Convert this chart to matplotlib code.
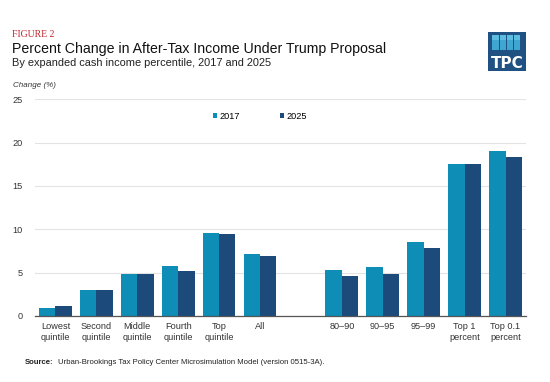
import matplotlib.pyplot as plt
from matplotlib.patches import Rectangle
import numpy as np

plt.rcParams['font.family'] = ['Liberation Sans', 'DejaVu Sans']

groups = ["Lowest\nquintile", "Second\nquintile", "Middle\nquintile", "Fourth\nquintile",
          "Top\nquintile", "All", "", "80\u201390", "90\u201395", "95\u201399",
          "Top 1\npercent", "Top 0.1\npercent"]
v2017 = [0.9, 3.0, 4.9, 5.8, 9.6, 7.1, np.nan, 5.3, 5.7, 8.5, 17.5, 19.0]
v2025 = [1.1, 3.0, 4.9, 5.2, 9.5, 6.9, np.nan, 4.6, 4.8, 7.8, 17.5, 18.3]
yticks = [0, 5, 10, 15, 20, 25]

c17 = "#0e8db6"
c25 = "#1b4a7b"

fig = plt.figure(figsize=(5.5, 3.82), dpi=100)
ax = fig.add_axes([0.0636, 0.1728, 0.8927, 0.5672])

x = np.arange(len(groups))
w = 0.4
ax.bar(x - w / 2, v2017, w, color=c17, label="2017")
ax.bar(x + w / 2, v2025, w, color=c25, label="2025")

ax.set_xlim(-0.5, len(groups) - 0.5)
ax.set_ylim(0, 25)
ax.set_yticks(yticks)
ax.set_xticks(x)
ax.set_xticklabels(groups, fontsize=6.6, color="#333333", linespacing=1.3)
ax.tick_params(axis="y", labelsize=6.6, colors="#333333", length=0, pad=9)
ax.tick_params(axis="x", length=0, pad=4)
ax.grid(axis="y", color="#e3e3e3", linewidth=0.8)
ax.set_axisbelow(True)
for s in ["top", "right", "left"]:
    ax.spines[s].set_visible(False)
ax.spines["bottom"].set_color("#555555")
ax.spines["bottom"].set_linewidth(0.9)

leg = ax.legend(loc="upper center", bbox_to_anchor=(0.458, 0.98), ncol=2, frameon=False,
                fontsize=6.6, handlelength=0.45, handleheight=0.45, handletextpad=0.25,
                columnspacing=4.4)

fig.text(0.022, 0.903, "FIGURE 2", fontsize=7, color="#c0272d", family="Liberation Serif")
fig.text(0.022, 0.862, "Percent Change in After-Tax Income Under Trump Proposal",
         fontsize=10.2, color="#111111")
fig.text(0.022, 0.828, "By expanded cash income percentile, 2017 and 2025",
         fontsize=7.9, color="#222222")
fig.text(0.024, 0.773, "Change (%)", fontsize=5.8, style="italic", color="#333333")
fig.text(0.045, 0.047, "Source:", fontsize=5.6, weight="bold", color="#222222")
fig.text(0.106, 0.047, "Urban-Brookings Tax Policy Center Microsimulation Model (version 0515-3A).",
         fontsize=5.6, color="#222222")

# TPC logo
W, H = 550, 382
def fx(px):
    return px / W
def fy(py):
    return 1 - py / H

fig.patches.append(Rectangle((fx(488), fy(71)), fx(38), 39 / H, transform=fig.transFigure,
                             facecolor="#1f5283", edgecolor="none"))
for r in range(3):
    for c in range(4):
        cx = 492.3 + c * 7.2
        cy = 35.3 + r * 5.0
        col = "#5cbde0" if r == 0 else "#3fa6d2"
        fig.patches.append(Rectangle((fx(cx), fy(cy + 4.3)), fx(6.3), 4.3 / H,
                                     transform=fig.transFigure, facecolor=col, edgecolor="none"))
fig.text(fx(507), fy(67.5), "TPC", fontsize=11, weight="bold", color="white",
         ha="center", va="baseline", family=["Liberation Sans Narrow", "DejaVu Sans"])

fig.savefig("out.png", dpi=100)
